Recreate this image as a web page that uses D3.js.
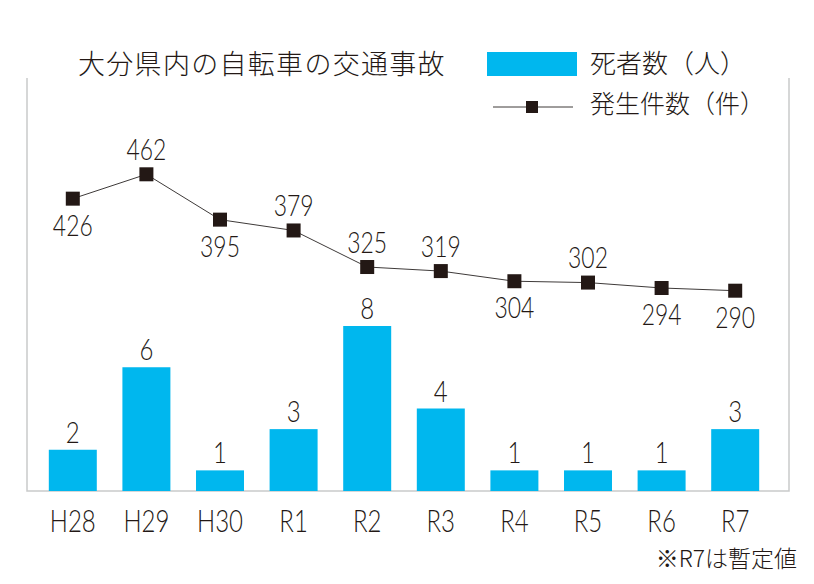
<!DOCTYPE html>
<html>
<head>
<meta charset="utf-8">
<script src="https://cdn.jsdelivr.net/npm/d3@7"></script>
<style>
  body { margin: 0; background: #fff; }
  text { fill: #231815; }
</style>
</head>
<body>
<svg id="chart" width="814" height="584"></svg>
<script>
const years = ["H28", "H29", "H30", "R1", "R2", "R3", "R4", "R5", "R6", "R7"];
const deaths = [2, 6, 1, 3, 8, 4, 1, 1, 1, 3];
const accidents = [426, 462, 395, 379, 325, 319, 304, 302, 294, 290];
// where each accident label sits relative to its marker
const accLabelSide = ["below", "above", "below", "above", "above", "above", "below", "above", "below", "below"];

const title = "大分県内の自転車の交通事故";
const legendBar = "死者数（人）";
const legendLine = "発生件数（件）";
const note = "※R7は暫定値";

const ink = "#231815";
const cyan = "#00b7ee";
const numFont = "Lato, 'Liberation Sans', sans-serif";
const jpFont = "'Noto Sans CJK JP', sans-serif";

const svg = d3.select("#chart");

const frame = { left: 27, right: 789, top: 78, bottom: 491 };

const x = d3.scaleBand()
    .domain(years)
    .range([36, 772])
    .paddingInner(0.348)
    .paddingOuter(0.174);

const yBar = d3.scaleLinear()
    .domain([0, 8])
    .range([frame.bottom, 326]);

const yLine = d3.scaleLinear()
    .domain([290, 462])
    .range([290.7, 174.3]);

const mid = d => x(d) + x.bandwidth() / 2;

// the original uses a condensed face, so squeeze a normal one horizontally
function numText(sel, fx, fy, size, squeeze) {
    sel.attr("transform", (d, i) => `translate(${fx(d, i)},${fy(d, i)}) scale(${squeeze},1)`)
        .attr("text-anchor", "middle")
        .attr("font-family", numFont)
        .attr("font-weight", 300)
        .attr("font-size", size + "px");
}

// frame (left, right, bottom)
svg.append("path")
    .attr("d", `M${frame.left},${frame.top}V${frame.bottom}H${frame.right}V${frame.top}`)
    .attr("fill", "none")
    .attr("stroke", "#c9caca")
    .attr("stroke-width", 1.5);

// bars
svg.selectAll(".bar")
    .data(deaths)
    .join("rect")
    .attr("class", "bar")
    .attr("x", (d, i) => x(years[i]))
    .attr("y", d => yBar(d))
    .attr("width", x.bandwidth())
    .attr("height", d => frame.bottom - yBar(d))
    .attr("fill", cyan);

svg.selectAll(".bar-label")
    .data(deaths)
    .join("text")
    .attr("class", "bar-label")
    .call(numText, (d, i) => mid(years[i]), d => yBar(d) - 7, 30, 0.8)
    .text(d => d);

// x labels
svg.selectAll(".x-label")
    .data(years)
    .join("text")
    .attr("class", "x-label")
    .call(numText, d => mid(d), () => 532, 32, 0.75)
    .text(d => d);

// accidents line
const line = d3.line()
    .x((d, i) => mid(years[i]))
    .y(d => yLine(d));

svg.append("path")
    .datum(accidents)
    .attr("fill", "none")
    .attr("stroke", "#3e3a39")
    .attr("stroke-width", 1)
    .attr("d", line);

const ms = 14;
svg.selectAll(".marker")
    .data(accidents)
    .join("rect")
    .attr("class", "marker")
    .attr("x", (d, i) => mid(years[i]) - ms / 2)
    .attr("y", d => yLine(d) - ms / 2)
    .attr("width", ms)
    .attr("height", ms)
    .attr("fill", ink);

svg.selectAll(".acc-label")
    .data(accidents)
    .join("text")
    .attr("class", "acc-label")
    .call(numText, (d, i) => mid(years[i]),
        (d, i) => yLine(d) + (accLabelSide[i] === "above" ? -14.5 : 37), 29, 0.79)
    .text(d => d);

// title
svg.append("text")
    .attr("x", 78)
    .attr("y", 74)
    .attr("font-family", jpFont)
    .attr("font-weight", 300)
    .attr("font-size", "27px")
    .attr("letter-spacing", "1.3px")
    .text(title);

// legend
svg.append("rect")
    .attr("x", 487).attr("y", 52)
    .attr("width", 90).attr("height", 24)
    .attr("fill", cyan);

svg.append("text")
    .attr("x", 590).attr("y", 73)
    .attr("font-family", jpFont)
    .attr("font-weight", 300)
    .attr("font-size", "26px")
    .text(legendBar);

svg.append("line")
    .attr("x1", 493).attr("x2", 573)
    .attr("y1", 107).attr("y2", 107)
    .attr("stroke", "#3e3a39")
    .attr("stroke-width", 1);

svg.append("rect")
    .attr("x", 526).attr("y", 101)
    .attr("width", 12).attr("height", 12)
    .attr("fill", ink);

svg.append("text")
    .attr("x", 590).attr("y", 113)
    .attr("font-family", jpFont)
    .attr("font-weight", 300)
    .attr("font-size", "25px")
    .text(legendLine);

// note
svg.append("text")
    .attr("x", 797).attr("y", 567)
    .attr("text-anchor", "end")
    .attr("font-family", jpFont)
    .attr("font-weight", 300)
    .attr("font-size", "23px")
    .text(note);
</script>
</body>
</html>
